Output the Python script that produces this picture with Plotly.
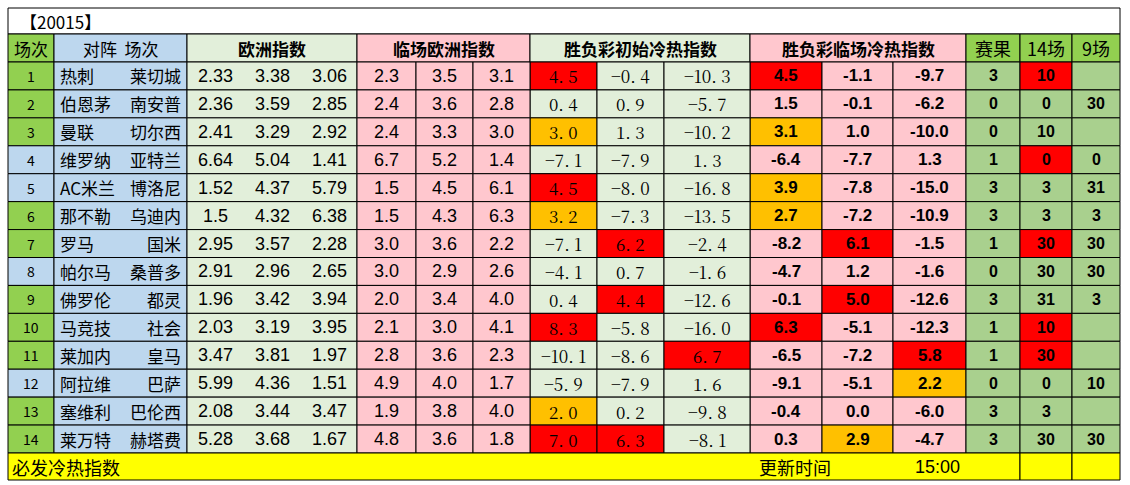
import plotly.graph_objects as go

# %%
# data
title = "【20015】"
headers = ["场次", "对阵  场次", "欧洲指数", "临场欧洲指数", "胜负彩初始冷热指数", "胜负彩临场冷热指数", "赛果", "14场", "9场"]
home = ["热刺", "伯恩茅", "曼联", "维罗纳", "AC米兰", "那不勒", "罗马", "帕尔马", "佛罗伦", "马竞技", "莱加内", "阿拉维", "塞维利", "莱万特"]
away = ["莱切城", "南安普", "切尔西", "亚特兰", "博洛尼", "乌迪内", "国米", "桑普多", "都灵", "社会", "皇马", "巴萨", "巴伦西", "赫塔费"]
euro = [
    ["2.33", "3.38", "3.06"], ["2.36", "3.59", "2.85"], ["2.41", "3.29", "2.92"], ["6.64", "5.04", "1.41"],
    ["1.52", "4.37", "5.79"], ["1.5", "4.32", "6.38"], ["2.95", "3.57", "2.28"], ["2.91", "2.96", "2.65"],
    ["1.96", "3.42", "3.94"], ["2.03", "3.19", "3.95"], ["3.47", "3.81", "1.97"], ["5.99", "4.36", "1.51"],
    ["2.08", "3.44", "3.47"], ["5.28", "3.68", "1.67"],
]
euro_live = [
    ["2.3", "3.5", "3.1"], ["2.4", "3.6", "2.8"], ["2.4", "3.3", "3.0"], ["6.7", "5.2", "1.4"],
    ["1.5", "4.5", "6.1"], ["1.5", "4.3", "6.3"], ["3.0", "3.6", "2.2"], ["3.0", "2.9", "2.6"],
    ["2.0", "3.4", "4.0"], ["2.1", "3.0", "4.1"], ["2.8", "3.6", "2.3"], ["4.9", "4.0", "1.7"],
    ["1.9", "3.8", "4.0"], ["4.8", "3.6", "1.8"],
]
hot_init = [
    ["4.5", "-0.4", "-10.3"], ["0.4", "0.9", "-5.7"], ["3.0", "1.3", "-10.2"], ["-7.1", "-7.9", "1.3"],
    ["4.5", "-8.0", "-16.8"], ["3.2", "-7.3", "-13.5"], ["-7.1", "6.2", "-2.4"], ["-4.1", "0.7", "-1.6"],
    ["0.4", "4.4", "-12.6"], ["8.3", "-5.8", "-16.0"], ["-10.1", "-8.6", "6.7"], ["-5.9", "-7.9", "1.6"],
    ["2.0", "0.2", "-9.8"], ["7.0", "6.3", "-8.1"],
]
hot_live = [
    ["4.5", "-1.1", "-9.7"], ["1.5", "-0.1", "-6.2"], ["3.1", "1.0", "-10.0"], ["-6.4", "-7.7", "1.3"],
    ["3.9", "-7.8", "-15.0"], ["2.7", "-7.2", "-10.9"], ["-8.2", "6.1", "-1.5"], ["-4.7", "1.2", "-1.6"],
    ["-0.1", "5.0", "-12.6"], ["6.3", "-5.1", "-12.3"], ["-6.5", "-7.2", "5.8"], ["-9.1", "-5.1", "2.2"],
    ["-0.4", "0.0", "-6.0"], ["0.3", "2.9", "-4.7"],
]
# highlight marks: R = red, O = orange, "" = none
mark_init = [
    ["R", "", ""], ["", "", ""], ["O", "", ""], ["", "", ""], ["R", "", ""], ["O", "", ""], ["", "R", ""],
    ["", "", ""], ["", "R", ""], ["R", "", ""], ["", "", "R"], ["", "", ""], ["O", "", ""], ["R", "R", ""],
]
mark_live = [
    ["R", "", ""], ["", "", ""], ["O", "", ""], ["", "", ""], ["O", "", ""], ["O", "", ""], ["", "R", ""],
    ["", "", ""], ["", "R", ""], ["R", "", ""], ["", "", "R"], ["", "", "O"], ["", "", ""], ["", "O", ""],
]
result = ["3", "0", "0", "1", "3", "3", "1", "0", "3", "1", "1", "0", "3", "3"]
pick14 = ["10", "0", "10", "0", "3", "3", "30", "30", "31", "10", "30", "0", "3", "30"]
red14 = [True, False, False, True, False, False, True, False, False, True, True, False, False, False]
pick9 = ["", "30", "", "0", "31", "3", "30", "30", "3", "", "", "10", "", "30"]
num_green = [True, True, True, False, False, True, True, False, True, True, True, False, True, True]
footer_left, footer_mid, footer_time = "必发冷热指数", "更新时间", "15:00"

# %%
# layout grid (pixels)
X = [8, 54, 187, 357, 530, 750, 966, 1020, 1072, 1120]
sub = {3: [357, 416, 473, 530], 4: [530, 597, 664, 750], 5: [750, 822, 893, 966]}
y_title, y_head, y_body = 8, 34, 62
rh = (453 - 62) / 14
y_foot_end = 480

GREEN, BLUE, LGREEN, PINK = "#92D050", "#BDD7EE", "#E2EFDA", "#FFC7CE"
RED, ORANGE, RES = "#FF0000", "#FFC000", "#A9D08E"
FONT = "Noto Sans CJK SC"
SERIF = "Noto Serif CJK SC, DejaVu Serif, serif"
shapes, ann = [], []


def cell(x0, x1, y0, y1, fill, text="", size=16, bold=False, align="center", xpad=0, family=FONT):
    shapes.append(dict(type="rect", x0=x0, x1=x1, y0=y0, y1=y1, fillcolor=fill,
                       line=dict(color="black", width=1), layer="below"))
    if text:
        t = f"<b>{text}</b>" if bold else text
        xa = {"center": (x0 + x1) / 2, "left": x0 + xpad, "right": x1 - xpad}[align]
        ann.append(dict(x=xa, y=(y0 + y1) / 2, text=t, showarrow=False, xanchor=align,
                        yanchor="middle", font=dict(size=size, color="black", family=family)))


cell(X[0], X[-1], y_title, y_head, "white", title, size=17, align="left", xpad=10)
head_fill = ["#92D050", BLUE, LGREEN, PINK, LGREEN, PINK, GREEN, GREEN, GREEN]
for i, h in enumerate(headers):
    cell(X[i], X[i + 1], y_head, y_body, head_fill[i], h, size=18 if i >= 6 else 17, bold=(2 <= i <= 5))

colc = {"R": RED, "O": ORANGE}
for r in range(14):
    y0, y1 = y_body + r * rh, y_body + (r + 1) * rh
    cell(X[0], X[1], y0, y1, GREEN if num_green[r] else BLUE, str(r + 1), size=14)
    cell(X[1], X[2], y0, y1, BLUE)
    ann.append(dict(x=X[1] + 4, y=(y0 + y1) / 2, text=home[r], showarrow=False, xanchor="left",
                    font=dict(size=17, family=FONT, color="black")))
    ann.append(dict(x=X[2] - 4, y=(y0 + y1) / 2, text=away[r], showarrow=False, xanchor="right",
                    font=dict(size=17, family=FONT, color="black")))
    cell(X[2], X[3], y0, y1, LGREEN)
    for k, v in enumerate(euro[r]):
        ann.append(dict(x=X[2] + 28 + k * 57, y=(y0 + y1) / 2, text=v, showarrow=False,
                        font=dict(size=18, family="Liberation Sans", color="black")))
    for k in range(3):
        s = sub[3]
        cell(s[k], s[k + 1], y0, y1, PINK, euro_live[r][k], size=18, family="Liberation Sans")
        s = sub[4]
        cell(s[k], s[k + 1], y0, y1, colc.get(mark_init[r][k], LGREEN),
             hot_init[r][k].replace("-", "−").replace(".", ". "), size=17, family=SERIF)
        s = sub[5]
        cell(s[k], s[k + 1], y0, y1, colc.get(mark_live[r][k], PINK), hot_live[r][k], size=17, bold=True,
             family="Liberation Sans")
    cell(X[6], X[7], y0, y1, RES, result[r], size=16, bold=True, family="Liberation Sans")
    cell(X[7], X[8], y0, y1, RED if red14[r] else RES, pick14[r], size=16, bold=True, family="Liberation Sans")
    cell(X[8], X[9], y0, y1, RES, pick9[r], size=16, bold=True, family="Liberation Sans")

yf0 = y_body + 14 * rh
cell(X[0], X[7], yf0, y_foot_end, "#FFFF00", footer_left, size=18, align="left", xpad=2)
cell(X[7], X[8], yf0, y_foot_end, "#FFFF00")
cell(X[8], X[9], yf0, y_foot_end, "#FFFF00")
ann.append(dict(x=795, y=(yf0 + y_foot_end) / 2, text=footer_mid, showarrow=False,
                font=dict(size=18, family=FONT, color="black")))
ann.append(dict(x=937, y=(yf0 + y_foot_end) / 2, text=footer_time, showarrow=False,
                font=dict(size=18, family="Liberation Sans", color="black")))

fig = go.Figure()
fig.update_layout(
    width=1130, height=485, margin=dict(l=0, r=0, t=0, b=0),
    plot_bgcolor="white", paper_bgcolor="white",
    xaxis=dict(range=[0, 1130], visible=False, fixedrange=True),
    yaxis=dict(range=[485, 0], visible=False, fixedrange=True),
    shapes=shapes, annotations=ann, showlegend=False,
)
fig.write_html(
    "out.html",
    config={"displayModeBar": False},
    post_script="document.body.style.margin='0';document.body.style.overflow='hidden';",
)
